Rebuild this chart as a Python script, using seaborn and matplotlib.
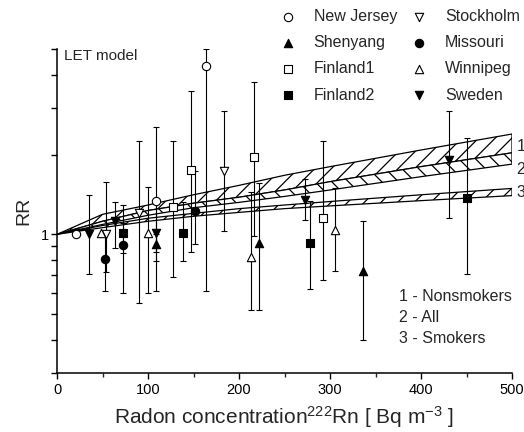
import matplotlib
matplotlib.use('agg')
import seaborn as sns
import matplotlib.pyplot as plt
import numpy as np
import pandas as pd

sns.set_style('ticks')
plt.rcParams['font.family'] = ['Liberation Sans', 'DejaVu Sans']
plt.rcParams['mathtext.fontset'] = 'custom'
plt.rcParams['mathtext.rm'] = 'Liberation Sans'
plt.rcParams['mathtext.it'] = 'Liberation Sans:italic'
plt.rcParams['hatch.linewidth'] = 0.9

# study points (RR with confidence limits)
study = ['New Jersey', 'Sweden', 'Winnipeg', 'Stockholm', 'Missouri', 'Sweden',
         'Finland2', 'Missouri', 'Stockholm', 'Winnipeg', 'New Jersey', 'Sweden',
         'Shenyang', 'Finland1', 'Finland2', 'Finland1', 'Missouri', 'New Jersey',
         'Stockholm', 'Finland1', 'Winnipeg', 'Shenyang', 'Sweden', 'Finland2',
         'Finland1', 'Winnipeg', 'Shenyang', 'Sweden', 'Finland2']
radon = [21, 35, 48, 54, 53, 64, 73, 73, 90, 100, 109, 109, 109, 128, 138, 147, 152,
         164, 184, 216, 213, 222, 273, 278, 292, 306, 336, 431, 451]
rr = [1.00, 1.00, 1.01, 1.00, 0.81, 1.12, 1.01, 0.91, 1.20, 1.01, 1.34, 1.01, 0.92,
      1.27, 1.01, 1.75, 1.22, 4.30, 1.74, 1.96, 0.82, 0.93, 1.35, 0.93, 1.15, 1.04,
      0.73, 1.90, 1.37]
rr_low = [1.00, 0.71, 1.01, 0.72, 0.61, 0.89, 0.60, 0.85, 0.55, 0.60, 0.61, 0.79, 0.86,
          0.69, 0.79, 0.86, 0.92, 0.61, 1.03, 0.99, 0.52, 0.52, 1.13, 0.62, 0.67, 0.73,
          0.40, 1.15, 0.71]
rr_high = [1.00, 1.41, 1.01, 1.58, 1.00, 1.32, 1.29, 1.10, 2.24, 1.51, 2.55, 1.30, 1.00,
           2.24, 1.32, 3.47, 1.74, 5.00, 2.93, 3.76, 1.45, 1.56, 1.62, 1.34, 2.24, 1.49,
           1.12, 2.92, 2.31]

legend_order = ['New Jersey', 'Shenyang', 'Finland1', 'Finland2',
                'Stockholm', 'Missouri', 'Winnipeg', 'Sweden']
marker_of = {'New Jersey': 'o', 'Shenyang': '^', 'Finland1': 's', 'Finland2': 's',
             'Stockholm': 'v', 'Missouri': 'o', 'Winnipeg': '^', 'Sweden': 'v'}
open_marker = ['New Jersey', 'Finland1', 'Stockholm', 'Winnipeg']

# LET model bands
band_x = [0, 50, 100, 150, 200, 250, 300, 400, 500]
nonsmokers_hi = [1.0, 1.19, 1.29, 1.41, 1.53, 1.67, 1.80, 2.08, 2.39]
nonsmokers_lo = [1.0, 1.12, 1.23, 1.31, 1.38, 1.47, 1.58, 1.80, 2.03]
all_lo = [1.0, 1.09, 1.18, 1.26, 1.32, 1.39, 1.47, 1.65, 1.84]
smokers_hi = [1.0, 1.08, 1.15, 1.20, 1.25, 1.29, 1.33, 1.41, 1.49]
smokers_lo = [1.0, 1.06, 1.12, 1.17, 1.21, 1.25, 1.28, 1.34, 1.40]

df = pd.DataFrame({'study': study, 'radon': radon, 'rr': rr,
                   'lo': rr_low, 'hi': rr_high})

fig = plt.figure(figsize=(5.24, 4.32), dpi=100)
ax = fig.add_axes([57 / 524, 1 - 373 / 432, 455 / 524, 324 / 432])

bands = [(nonsmokers_lo, nonsmokers_hi, '//'),
         (all_lo, nonsmokers_lo, '\\\\'),
         (smokers_lo, smokers_hi, '//')]
for lo, hi, h in bands:
    ax.fill_between(band_x, lo, hi, facecolor='white', edgecolor='black',
                    hatch=h, linewidth=0.9, zorder=1)

# error bars
bars = df[df['lo'] < df['hi']]
ax.errorbar(bars['radon'], bars['rr'],
            yerr=[bars['rr'] - bars['lo'], bars['hi'] - bars['rr']],
            fmt='none', ecolor='black', elinewidth=0.8, capsize=2.5,
            capthick=0.8, zorder=2)

for name in legend_order:
    sub = df[df['study'] == name]
    face = 'white' if name in open_marker else 'black'
    size = 30 if marker_of[name] == 's' else 36
    sns.scatterplot(data=sub, x='radon', y='rr', marker=marker_of[name],
                    color=face, edgecolor='black', linewidth=0.8, s=size,
                    ax=ax, label=name, zorder=3)

ax.set_yscale('log')
ax.set_xlim(0, 500)
ax.set_ylim(0.3, 5)
yt = [0.3, 0.4, 0.5, 0.6, 0.7, 0.8, 0.9, 1, 2, 3, 4, 5]
ax.set_yticks(yt)
ax.set_yticklabels(['1' if v == 1 else '' for v in yt])
ax.yaxis.set_minor_locator(matplotlib.ticker.NullLocator())
ax.set_xticks([0, 100, 200, 300, 400, 500])
ax.set_xticks([50, 150, 250, 350, 450], minor=True)
ax.tick_params(axis='both', which='major', direction='out', length=4,
               width=1, labelsize=10.5, colors='black')
ax.tick_params(axis='x', which='minor', direction='out', length=3, width=1)
ax.tick_params(axis='y', pad=2)
sns.despine(ax=ax)
for s in ['left', 'bottom']:
    ax.spines[s].set_linewidth(1.1)
    ax.spines[s].set_color('black')

ax.set_xlabel(r'Radon concentration$^{\mathrm{222}}$Rn [ Bq m$^{\mathrm{-3}}$ ]',
              fontsize=15, labelpad=5)
ax.set_ylabel('RR', fontsize=14, labelpad=6)

ax.text(0.015, 1.0, 'LET model', transform=ax.transAxes, va='top',
        ha='left', fontsize=11)
notes = ['1 - Nonsmokers', '2 - All', '3 - Smokers']
for i, t in enumerate(notes):
    ax.text(0.752, 0.235 - i * 0.065, t, transform=ax.transAxes,
            va='center', ha='left', fontsize=11.5)

band_label_y = [2.14, 1.75, 1.44]
for i, v in enumerate(band_label_y):
    ax.text(505, v, str(i + 1), va='center', ha='left', fontsize=11.5,
            clip_on=False)

handles, labels = ax.get_legend_handles_labels()
if ax.legend_:
    ax.legend_.remove()
fig.legend(handles, labels, loc='upper left', ncol=2,
           bbox_to_anchor=(280 / 524, 1 - 9 / 432), frameon=False,
           fontsize=11.5, handlelength=1.0, handletextpad=1.1,
           columnspacing=0.9, labelspacing=0.7, borderpad=0,
           borderaxespad=0)

fig.savefig('out.png', dpi=100)
